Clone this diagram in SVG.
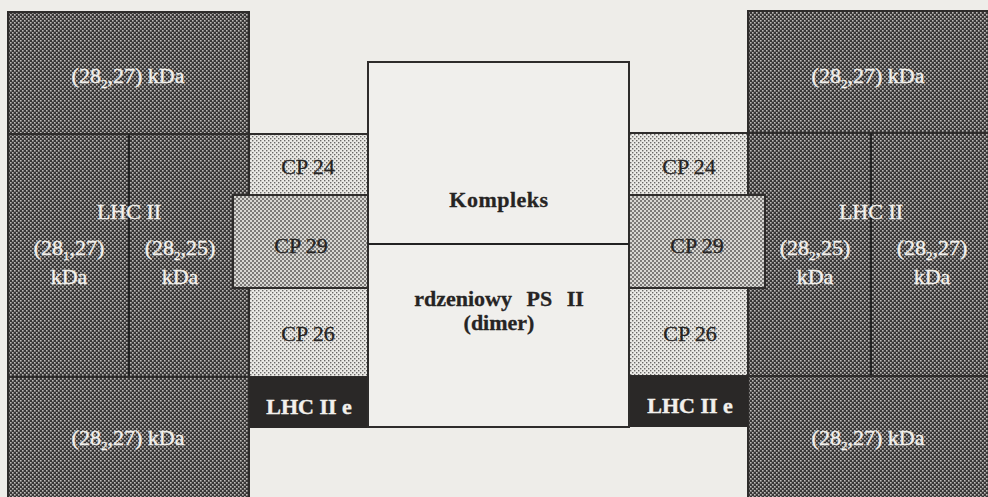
<svg xmlns="http://www.w3.org/2000/svg" width="988" height="497" viewBox="0 0 988 497">
  <defs>
    <!-- halftone screens used for the protein blocks -->
    <pattern id="screenDark" width="4" height="4" patternUnits="userSpaceOnUse">
      <rect width="4" height="4" fill="#383636"/>
      <rect x="0" y="0" width="1.6" height="1.6" fill="#bdbab8"/>
      <rect x="2" y="2" width="1.6" height="1.6" fill="#bdbab8"/>
    </pattern>
    <pattern id="screenLight" width="4" height="4" patternUnits="userSpaceOnUse">
      <rect width="4" height="4" fill="#ebeae6"/>
      <rect x="0" y="0" width="1.4" height="1.4" fill="#6a6866"/>
      <rect x="2" y="2" width="1.4" height="1.4" fill="#6a6866"/>
    </pattern>
    <pattern id="screenMid" width="4" height="4" patternUnits="userSpaceOnUse">
      <rect width="4" height="4" fill="#d8d7d3"/>
      <rect x="0" y="0" width="2" height="2" fill="#7c7a78"/>
      <rect x="2" y="2" width="2" height="2" fill="#7c7a78"/>
    </pattern>
  </defs>
  <style>
    .box { stroke: #2e2c2b; stroke-width: 2; }
    .dark { fill: url(#screenDark); }
    .light { fill: url(#screenLight); }
    .mid { fill: url(#screenMid); }
    .black { fill: #2a2827; }
    .core { fill: #f0efec; }
    .div { stroke: #222; stroke-width: 2; fill: none; }
    text { font-family: "Liberation Serif", "Times New Roman", serif; font-size: 22px; text-anchor: middle; }
    .w { fill: #f2f0ec; stroke: #f2f0ec; stroke-width: 0.4; }
    .k { fill: #262423; stroke: #262423; stroke-width: 0.3; }
    .b { font-weight: bold; }
    .sub { font-size: 13px; }
  </style>

  <rect width="988" height="497" fill="#eeede9"/>

  <!-- left LHC II antenna -->
  <g id="lhc-left-top">
    <rect class="box dark" x="8" y="12" width="241" height="122"/>
    <text class="w" x="128" y="83">(28<tspan class="sub" dy="5">2</tspan><tspan dy="-5">,27) kDa</tspan></text>
  </g>
  <g id="lhc-left-mid">
    <rect class="box dark" x="8" y="134" width="241" height="243"/>
    <line class="div" x1="129" y1="134" x2="129" y2="377"/>
    <text class="w" x="129" y="219">LHC II</text>
    <text class="w" x="69" y="255">(28<tspan class="sub" dy="5">1</tspan><tspan dy="-5">,27)</tspan></text>
    <text class="w" x="69" y="284">kDa</text>
    <text class="w" x="180" y="255">(28<tspan class="sub" dy="5">2</tspan><tspan dy="-5">,25)</tspan></text>
    <text class="w" x="180" y="284">kDa</text>
  </g>
  <g id="lhc-left-bottom">
    <rect class="box dark" x="8" y="377" width="241" height="125"/>
    <text class="w" x="128" y="445">(28<tspan class="sub" dy="5">2</tspan><tspan dy="-5">,27) kDa</tspan></text>
  </g>

  <!-- left minor antenna proteins -->
  <g id="cp24-left">
    <rect class="box light" x="249" y="134" width="120" height="61"/>
    <text class="k" x="308" y="174">CP 24</text>
  </g>
  <g id="cp26-left">
    <rect class="box light" x="249" y="288" width="120" height="89"/>
    <text class="k" x="308" y="341">CP 26</text>
  </g>
  <g id="cp29-left">
    <rect class="box mid" x="233" y="195" width="136" height="93"/>
    <text class="k" x="301" y="253">CP 29</text>
  </g>
  <g id="lhce-left">
    <rect class="black" x="249" y="377" width="120" height="51"/>
    <text class="w b" x="309" y="414">LHC II e</text>
  </g>

  <!-- right LHC II antenna -->
  <g id="lhc-right-top">
    <rect class="box dark" x="748" y="11" width="245" height="122"/>
    <text class="w" x="868" y="83">(28<tspan class="sub" dy="5">2</tspan><tspan dy="-5">,27) kDa</tspan></text>
  </g>
  <g id="lhc-right-mid">
    <rect class="box dark" x="748" y="133" width="245" height="243"/>
    <line class="div" x1="871" y1="133" x2="871" y2="376"/>
    <text class="w" x="871" y="219">LHC II</text>
    <text class="w" x="815" y="255">(28<tspan class="sub" dy="5">2</tspan><tspan dy="-5">,25)</tspan></text>
    <text class="w" x="815" y="284">kDa</text>
    <text class="w" x="932" y="255">(28<tspan class="sub" dy="5">2</tspan><tspan dy="-5">,27)</tspan></text>
    <text class="w" x="932" y="284">kDa</text>
  </g>
  <g id="lhc-right-bottom">
    <rect class="box dark" x="748" y="376" width="245" height="126"/>
    <text class="w" x="868" y="445">(28<tspan class="sub" dy="5">2</tspan><tspan dy="-5">,27) kDa</tspan></text>
  </g>

  <!-- right minor antenna proteins -->
  <g id="cp24-right">
    <rect class="box light" x="628" y="133" width="120" height="62"/>
    <text class="k" x="689" y="174">CP 24</text>
  </g>
  <g id="cp26-right">
    <rect class="box light" x="628" y="288" width="120" height="88"/>
    <text class="k" x="690" y="341">CP 26</text>
  </g>
  <g id="cp29-right">
    <rect class="box mid" x="628" y="195" width="137" height="93"/>
    <text class="k" x="697" y="253">CP 29</text>
  </g>
  <g id="lhce-right">
    <rect class="black" x="628" y="376" width="120" height="51"/>
    <text class="w b" x="690" y="413">LHC II e</text>
  </g>

  <!-- PS II core dimer -->
  <g id="core">
    <rect class="box core" x="368" y="62" width="261" height="365"/>
    <line class="div" x1="368" y1="244" x2="629" y2="244"/>
    <text class="k b" x="499" y="207" font-size="25" letter-spacing="0.5">Kompleks</text>
    <text class="k b" x="499" y="306" font-size="24" word-spacing="9">rdzeniowy PS II</text>
    <text class="k b" x="499" y="330" font-size="24">(dimer)</text>
  </g>
</svg>
